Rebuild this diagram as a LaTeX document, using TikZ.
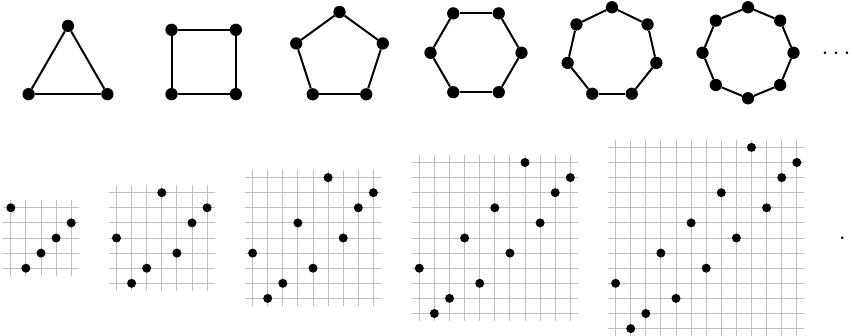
\documentclass[tikz,border=0pt]{standalone}
\tikzset{
  edge/.style={line width=2pt,draw=black},
  vpoint/.style={circle,fill=black,inner sep=0pt,minimum size=12.3pt},
  gpoint/.style={circle,fill=black,inner sep=0pt,minimum size=9pt},
  gline/.style={line width=0.9pt,draw=gray!50},
  etc/.style={inner sep=0pt,anchor=base,font=\fontsize{29}{30}\selectfont}
}
\begin{document}
\begin{tikzpicture}[x=1pt,y=1pt]
  \useasboundingbox (0,0) rectangle (853,336);
  % regular polygons (top row)
  \foreach \n/\cx/\cy/\a in {3/68/264.6/90, 4/203.7/274/45, 5/339.5/278.5/90, 6/476/283.2/0, 7/612/283.2/90, 8/748/283.2/90}{
    \foreach \k in {1,...,\n} \node[vpoint] (p\n-\k) at ([shift={(\cx,\cy)}]\a+360*\k/\n:45.5) {};
    \foreach \k in {1,...,\n}{\pgfmathtruncatemacro\j{mod(\k,\n)+1} \draw[edge] (p\n-\k) -- (p\n-\j);}
  }
  \node[etc] (dotsA) at (836,276) {$\cdots$};
  % permutation grids (bottom row)
  \foreach \n/\xo/\rows in {5/10.8/{4,0,1,2,3}, 7/116.5/{3,0,1,6,2,4,5}, 9/252.6/{3,0,1,5,2,8,4,6,7}, 11/419.3/{3,0,1,5,2,7,4,10,6,8,9}, 13/615.6/{3,0,1,5,2,7,4,9,6,12,8,10,11}}{
    \pgfmathsetmacro\yo{98-(\n-1)*15.1/2} \pgfmathtruncatemacro\m{\n-1}
    \foreach \i in {0,...,\m}{
      \draw[gline] ({\xo+\i*15.1},{\yo-7.55}) -- ++(0,\n*15.1);
      \draw[gline] ({\xo-7.55},{\yo+\i*15.1}) -- ++(\n*15.1,0);
    }
    \foreach \r [count=\i from 0] in \rows \node[gpoint] (g\n-\i) at ({\xo+\i*15.1},{\yo+\r*15.1}) {};
  }
  \node[etc] (dotsB) at (842.3,91.5) {$\cdot$};
\end{tikzpicture}
\end{document}
